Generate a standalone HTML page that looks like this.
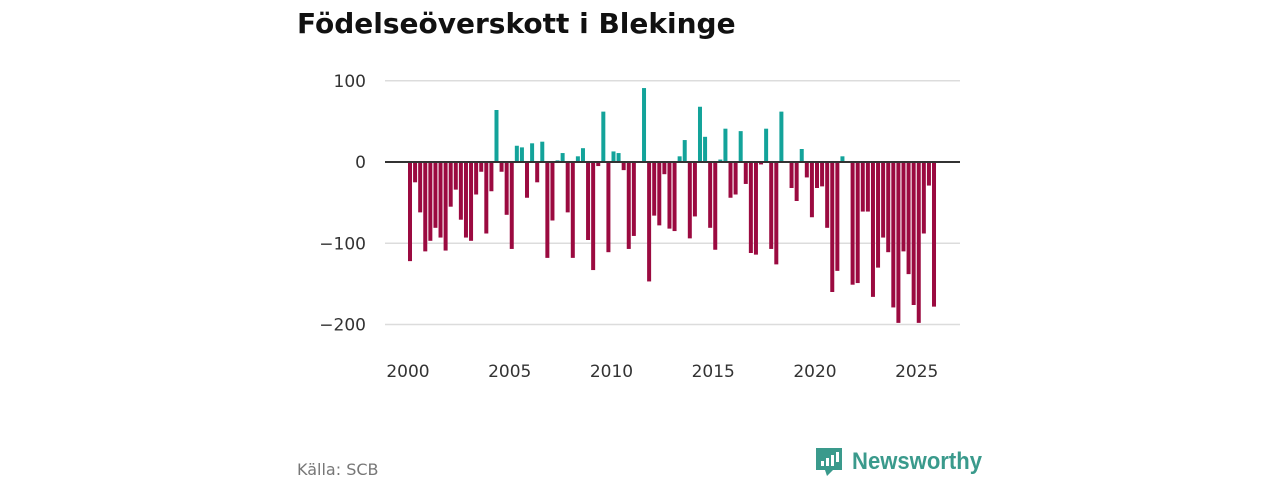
<!DOCTYPE html>
<html><head><meta charset="utf-8"><style>
body{margin:0;background:#fff;width:1280px;height:480px;overflow:hidden;font-family:"Liberation Sans",sans-serif;}
</style></head><body>
<svg width="1280" height="480" xmlns="http://www.w3.org/2000/svg">
<text x="297" y="33" font-size="28" font-weight="bold" fill="#111" font-family="DejaVu Sans, sans-serif">Födelseöverskott i Blekinge</text>
<g id="grid" font-family="DejaVu Sans, sans-serif"></g>
<g id="bars"></g>
<g id="xaxis" font-family="DejaVu Sans, sans-serif"></g>
<text x="297" y="475" font-size="16" fill="#777" font-family="DejaVu Sans, sans-serif">Källa: SCB</text>
<g>
<path d="M816 448 h26 v22 h-9 l-6 6 l-2 -6 h-9 z" fill="#3a9a8c"/>
<rect x="821" y="461" width="3" height="5" fill="#fff"/>
<rect x="826" y="458" width="3" height="8" fill="#fff"/>
<rect x="831" y="455" width="3" height="11" fill="#fff"/>
<rect x="836" y="452" width="3" height="10" fill="#fff"/>
<text x="852" y="469" font-size="24" font-weight="bold" fill="#3a9a8c" textLength="130" lengthAdjust="spacingAndGlyphs">Newsworthy</text>
</g>
</svg>
<script>
const yTicks=[100,0,-100,-200];
const yTickLabels=["100","0","−100","−200"];
const xTicks=[2000,2005,2010,2015,2020,2025];
const startYear=2000;
const values=[-122,-25,-62,-110,-97,-81,-93,-109,-55,-34,-71,-93,-97,-40,-12,-88,-36,64,-12,-65,-107,20,18,-44,23,-25,
25,-118,-72,2,11,-62,-118,7,17,-96,-133,-5,62,-111,13,11,-10,-107,-91,0,91,-147,-66,-78,-15,-82,-85,
7,27,-94,-67,68,31,-81,-108,3,41,-44,-40,38,-27,-112,-114,-3,41,-107,-126,62,0,-32,-48,16,-19,
-68,-32,-30,-81,-160,-134,7,0,-151,-149,-61,-61,-166,-130,-93,-111,-179,-198,-110,-138,-176,-198,-88,-29,-178];
const NS="http://www.w3.org/2000/svg";
function x(t){return 408+(t-2000)*20.35;}
function y(v){return 162-v*0.8125;}
function mk(tag,attrs,parent){const e=document.createElementNS(NS,tag);for(const k in attrs)e.setAttribute(k,attrs[k]);parent.appendChild(e);return e;}
const grid=document.getElementById('grid'),bars=document.getElementById('bars'),xa=document.getElementById('xaxis');
yTicks.forEach((v,i)=>{
 if(v!==0){const l=mk('line',{x1:385,x2:960,y1:y(v),y2:y(v),stroke:'#dcdcdc','stroke-width':1.5},grid);
 
 }
 const t=mk('text',{x:366,y:y(v)+6,'font-size':17,'text-anchor':'end',fill:'#333'},grid);
 t.textContent=yTickLabels[i];
 
 
});
values.forEach((v,i)=>{
 if(v===0)return;
 const cx=x(startYear+i/4)+2;
 const r=mk('rect',{x:cx-2,width:4,y:Math.min(y(v),y(0)),height:Math.abs(y(v)-y(0)),fill:v>0?'#13a39a':'#9b0a40'},bars);
 
 
});
const z=mk('line',{x1:385,x2:960,y1:y(0),y2:y(0),stroke:'#333','stroke-width':2},bars);


xTicks.forEach(t=>{
 const e=mk('text',{x:x(t),y:377,'font-size':17,'text-anchor':'middle',fill:'#333'},xa);
 e.textContent=t;
 
 
});
</script>
</body></html>
